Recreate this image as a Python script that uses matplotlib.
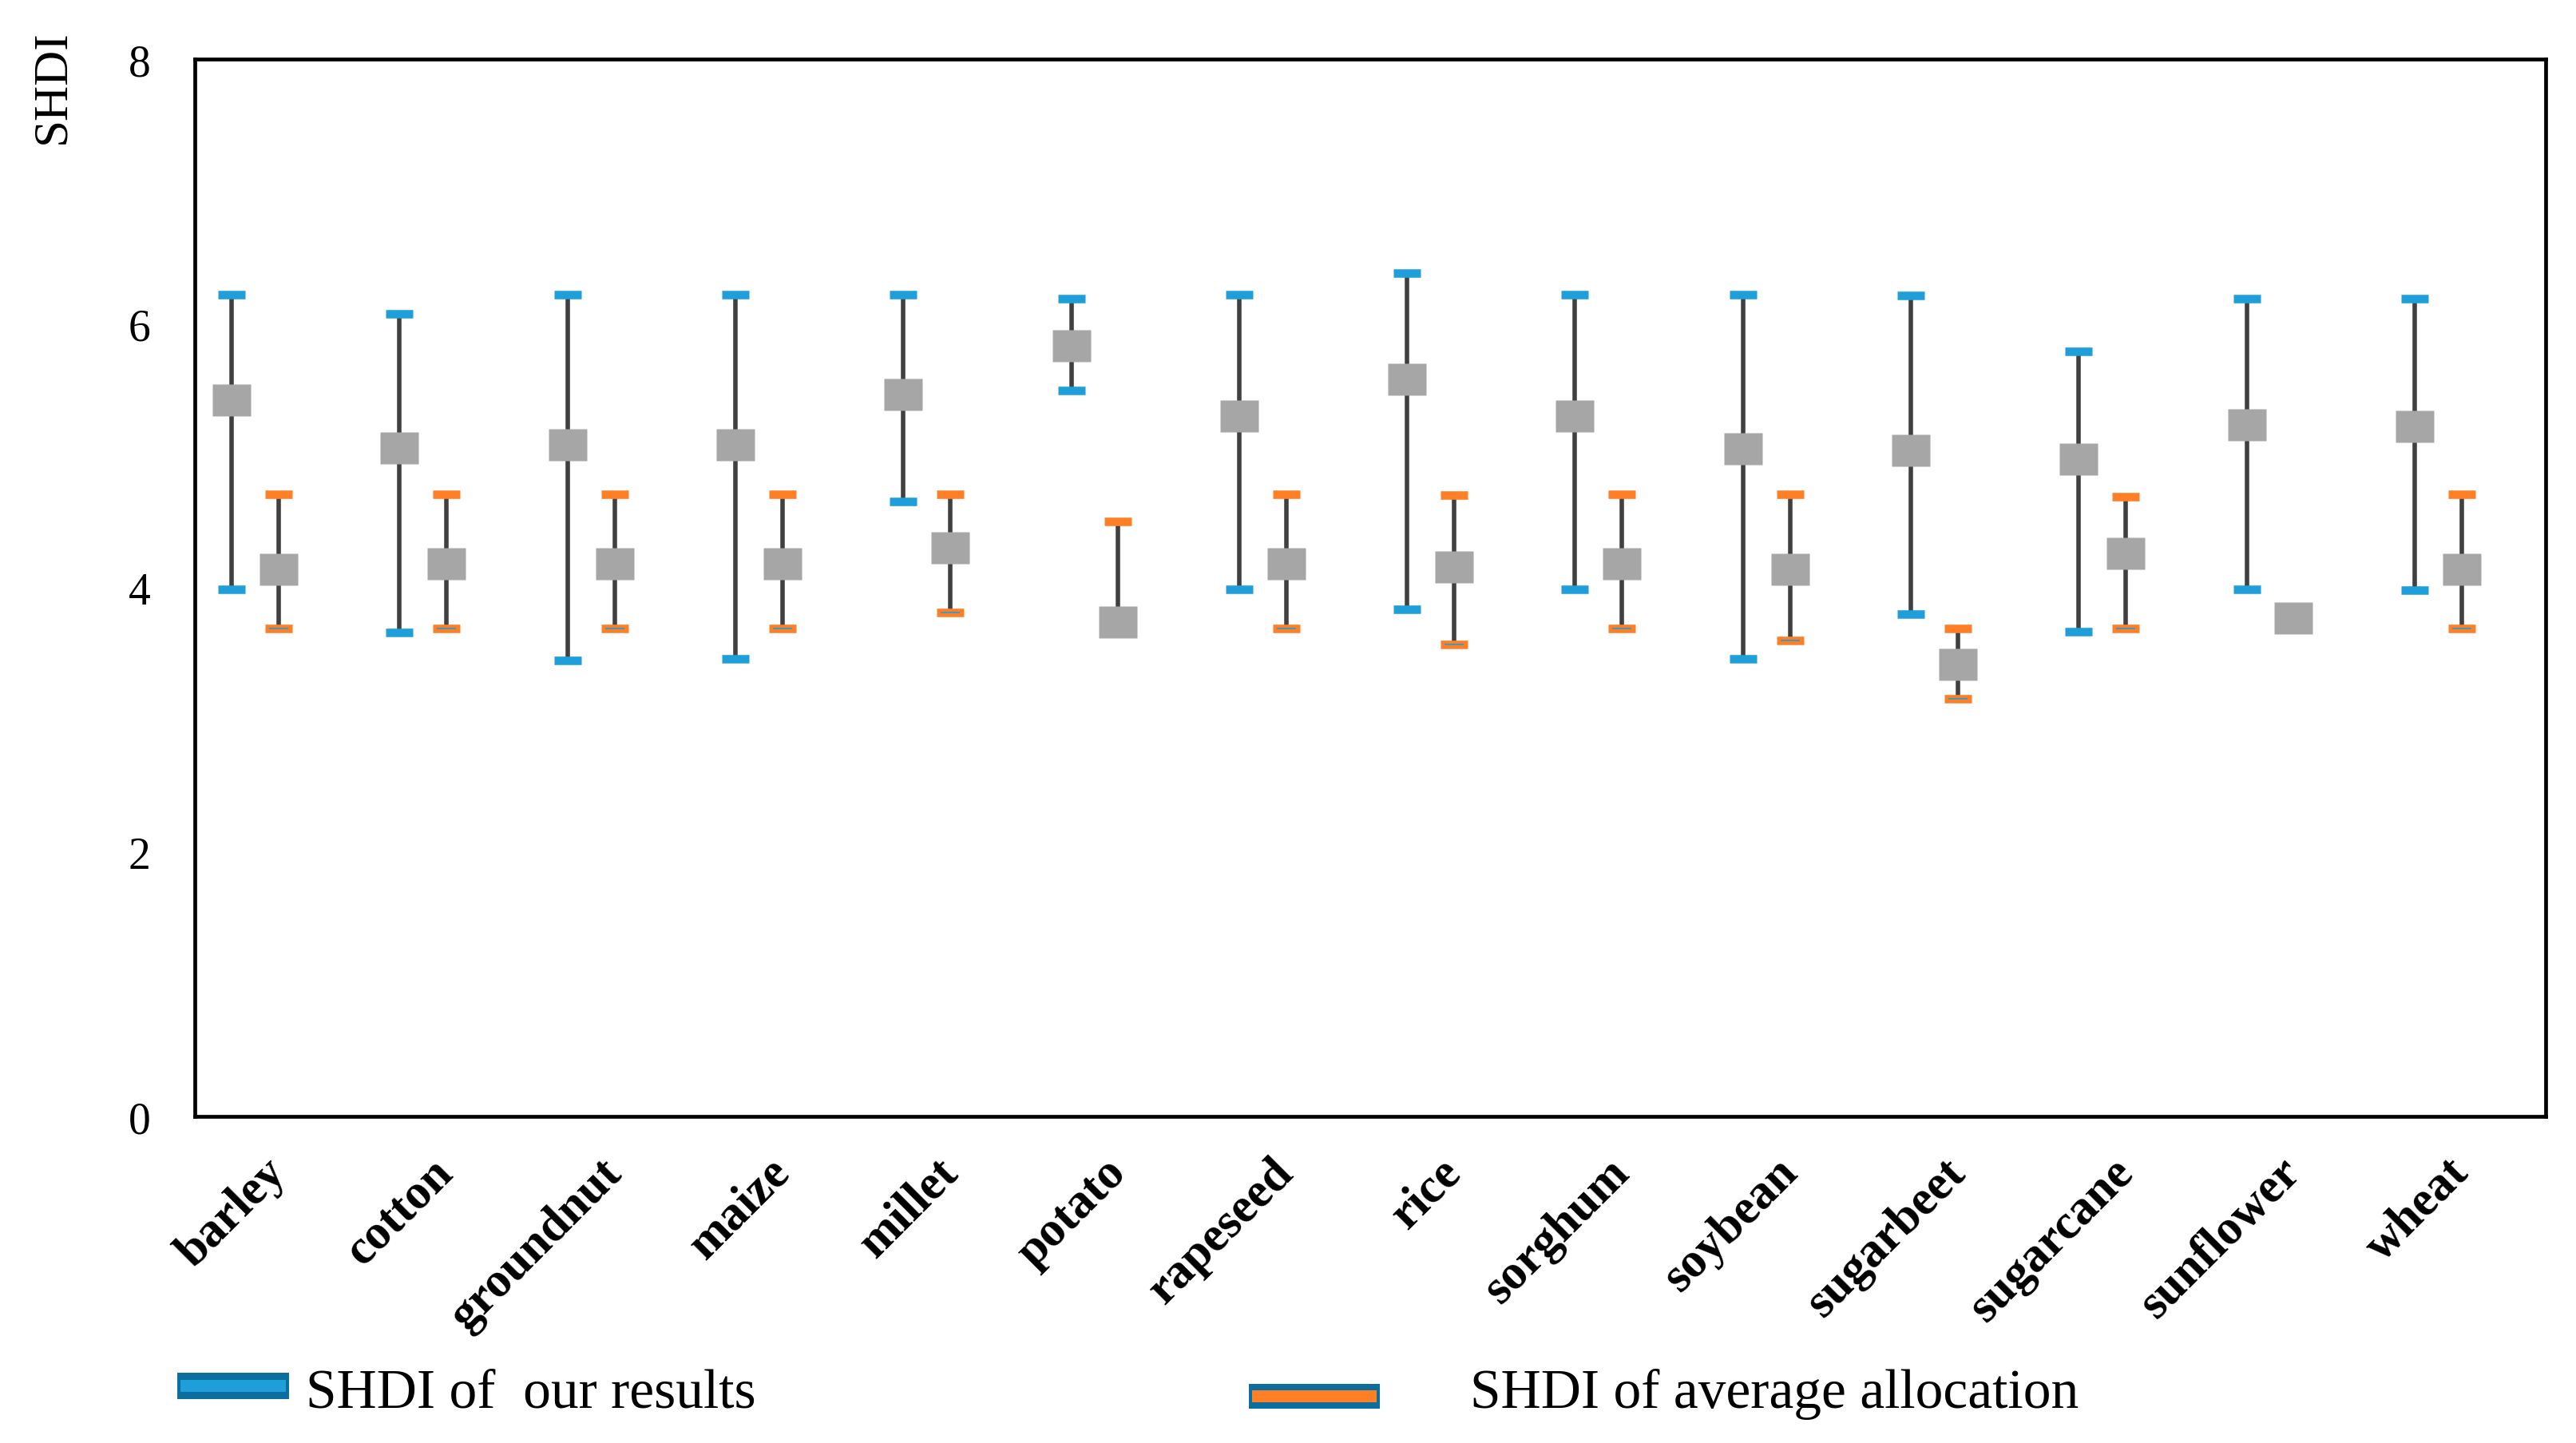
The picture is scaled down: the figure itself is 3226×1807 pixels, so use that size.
import numpy as np
import matplotlib.pyplot as plt
import matplotlib.transforms as mtransforms
from matplotlib.patches import Rectangle

crops = ['barley', 'cotton', 'groundnut', 'maize', 'millet', 'potato', 'rapeseed',
         'rice', 'sorghum', 'soybean', 'sugarbeet', 'sugarcane', 'sunflower', 'wheat']

# SHDI of our results (middle marker, upper and lower bound)
ours_mean = [5.42, 5.06, 5.08, 5.08, 5.46, 5.83, 5.30, 5.58, 5.30, 5.05, 5.04, 4.97, 5.23, 5.22]
ours_high = [6.22, 6.07, 6.22, 6.22, 6.22, 6.19, 6.22, 6.38, 6.22, 6.22, 6.21, 5.79, 6.19, 6.19]
ours_low = [3.99, 3.66, 3.45, 3.46, 4.65, 5.49, 3.99, 3.84, 3.99, 3.46, 3.80, 3.67, 3.99, 3.98]

# SHDI of average allocation
avg_mean = [4.14, 4.18, 4.18, 4.18, 4.30, 3.74, 4.18, 4.16, 4.18, 4.14, 3.42, 4.26, 3.77, 4.14]
avg_high = [4.71, 4.71, 4.71, 4.71, 4.71, 4.50, 4.71, 4.70, 4.71, 4.71, 3.69, 4.69, 3.77, 4.71]
avg_low = [3.69, 3.69, 3.69, 3.69, 3.81, 3.74, 3.69, 3.57, 3.69, 3.60, 3.16, 3.69, 3.77, 3.69]

yticks = [0, 2, 4, 6, 8]

blue = '#1E9FDA'
orange = '#FF7F27'
dark_blue = '#0C6E9C'
grey = '#A6A6A6'
line_col = '#404040'

plt.rcParams['font.family'] = ['Liberation Serif', 'DejaVu Serif']

fig = plt.figure(figsize=(16.13, 9.04), dpi=200)
ax = fig.add_axes([0.0756, 0.2262, 0.9126, 0.7323])

x = np.arange(len(crops))
x_ours = x - 0.28
x_avg = x

# slightly wider than tall, like the original markers
rect = [(-1, -0.85), (1, -0.85), (1, 0.85), (-1, 0.85), (-1, -0.85)]


def draw_series(xs, mean, low, high, cap_color):
    ax.vlines(xs, low, high, colors=line_col, lw=2.0, zorder=2)
    ax.plot(xs, high, ls='none', marker='_', ms=12.5, mew=3.8, color=cap_color, zorder=3)
    ax.plot(xs, low, ls='none', marker='_', ms=12.5, mew=3.8, color=cap_color, zorder=3)
    ax.plot(xs, mean, ls='none', marker=rect, ms=17, mfc=grey, mec='none', zorder=4)


draw_series(x_ours, ours_mean, ours_low, ours_high, blue)
draw_series(x_avg, avg_mean, avg_low, avg_high, orange)
# thin blue stroke visible inside the lower orange caps
ax.plot(x_avg, avg_low, ls='none', marker='_', ms=8.5, mew=0.6, color=blue, zorder=3.5)

ax.set_xlim(-0.5, len(crops) - 0.5)
ax.set_ylim(0, 8)
ax.set_yticks(yticks)
ax.set_yticklabels([str(v) for v in yticks], fontsize=20)
ax.set_xticks(x)
ax.set_xticklabels(crops, rotation=45, ha='right', va='top', rotation_mode='anchor',
                   fontweight='bold', fontsize=22)
ax.tick_params(axis='y', length=0, pad=20)
ax.tick_params(axis='x', length=0, pad=15)
shift = mtransforms.ScaledTranslation(-7 / 72, 0, fig.dpi_scale_trans)
for lbl in ax.get_xticklabels():
    lbl.set_transform(lbl.get_transform() + shift)

for sp in ax.spines.values():
    sp.set_linewidth(1.7)
    sp.set_color('black')

fig.text(66 / 3226, 1 - 37 / 1808, 'SHDI', rotation=90, ha='center', va='top', fontsize=22)

# legend drawn by hand to follow the original placement
W, H = 3226, 1808


def legend_key(x0, y0, w, h, inner_h, fill):
    fig.add_artist(Rectangle((x0 / W, 1 - (y0 + h) / H), w / W, h / H,
                             transform=fig.transFigure, facecolor=dark_blue, edgecolor='none'))
    m = 4
    fig.add_artist(Rectangle(((x0 + m) / W, 1 - (y0 + (h + inner_h) / 2) / H),
                             (w - 2 * m) / W, inner_h / H,
                             transform=fig.transFigure, facecolor=fill, edgecolor='none'))


legend_key(222, 1720, 140, 33, 15, blue)
legend_key(1564, 1734, 164, 31, 15, orange)
fig.text(383 / W, 1 - 1763 / H, 'SHDI of  our results', ha='left', va='baseline', fontsize=25)
fig.text(1841 / W, 1 - 1763 / H, 'SHDI of average allocation', ha='left', va='baseline', fontsize=25)

fig.savefig('out.png', dpi=200)
